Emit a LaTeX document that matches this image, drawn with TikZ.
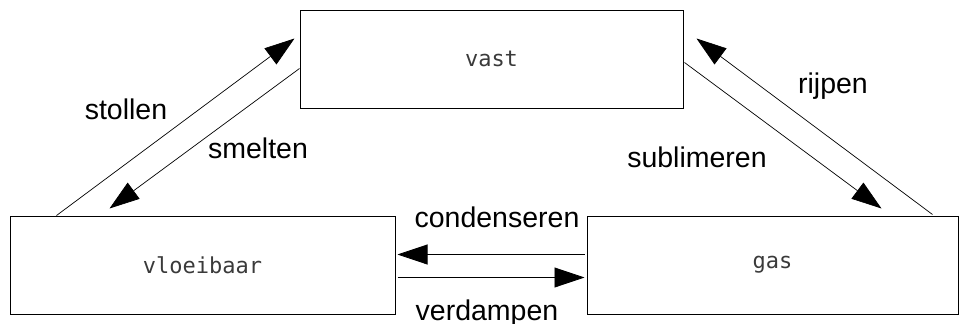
\documentclass[tikz,border=0pt]{standalone}
\usepackage{fontspec}
\setmainfont{Liberation Sans}
\newfontfamily\boxfont{DejaVu Sans Mono}
\usetikzlibrary{arrows.meta,calc}
\definecolor{boxtext}{HTML}{3A3A3A}
\begin{document}
\begin{tikzpicture}[x=1pt,y=-1pt,
  statebox/.style={draw=black, line width=1pt, minimum height=98pt, inner sep=0pt,
    font=\boxfont\fontsize{22}{26}\selectfont, text=boxtext},
  conn/.style={line width=0.7pt, -{Triangle[length=30pt,width=20pt]}},
  lbl/.style={font=\fontsize{28.5}{32}\selectfont, inner sep=0pt}]
\useasboundingbox (0,0) rectangle (959,324);
\node[statebox, minimum width=383pt] (vast) at (491.5,59) {vast};
\node[statebox, minimum width=385pt] (vloeibaar) at (202.5,265) {vloeibaar};
\node[statebox, minimum width=371pt] (gas) at (772.5,265) {gas};
% connectors
\coordinate (stA) at ($(vloeibaar.north west)+(47,0)$);
\coordinate (stB) at ($(vast.north west)+(-5,29)$);
\draw[conn] (stA) -- (stB);
\coordinate (smA) at ($(vast.north west)+(0,59)$);
\coordinate (smB) at ($(vloeibaar.north west)+(100,-7)$);
\draw[conn] (smA) -- (smB);
\coordinate (suA) at ($(vast.north east)+(1,53)$);
\coordinate (suB) at ($(gas.north west)+(295,-7)$);
\draw[conn] (suA) -- (suB);
\coordinate (riA) at ($(gas.north west)+(346,-1)$);
\coordinate (riB) at ($(vast.north east)+(13,29)$);
\draw[conn] (riA) -- (riB);
\coordinate (coA) at ($(gas.north west)+(-2,39)$);
\coordinate (coB) at ($(vloeibaar.north east)+(2,39)$);
\draw[conn] (coA) -- (coB);
\coordinate (veA) at ($(vloeibaar.north east)+(2,62)$);
\coordinate (veB) at ($(gas.north west)+(-2,62)$);
\draw[conn] (veA) -- (veB);
% labels
\node[lbl] (lstollen) at (126,109) {stollen};
\node[lbl] (lsmelten) at (258,148) {smelten};
\node[lbl] (lrijpen) at (833,86) {rijpen};
\node[lbl] (lsub) at (697,157) {sublimeren};
\node[lbl] (lcond) at (497,217) {condenseren};
\node[lbl] (lverd) at (487,313) {verdampen};
\end{tikzpicture}
\end{document}
